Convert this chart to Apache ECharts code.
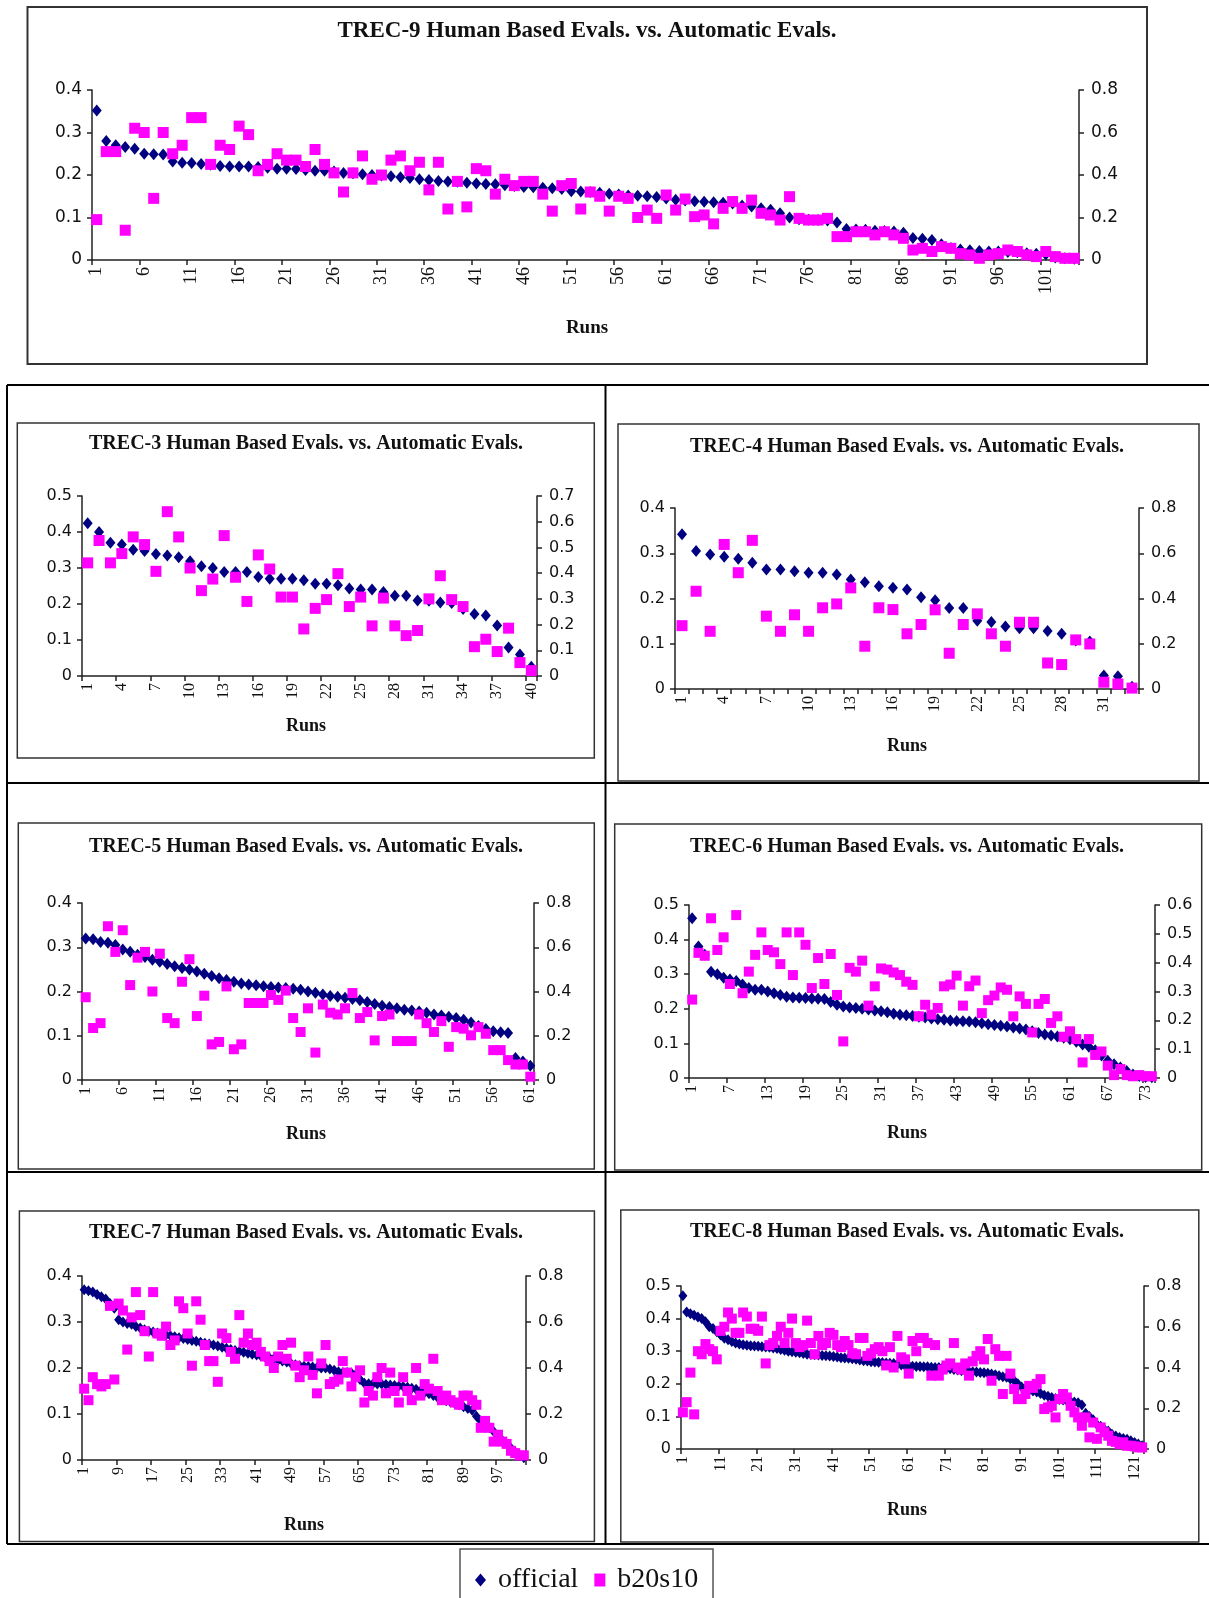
<!DOCTYPE html>
<html>
<head>
<meta charset="utf-8">
<title>TREC Human Based Evals. vs. Automatic Evals.</title>
<script src="https://cdn.jsdelivr.net/npm/echarts@6/dist/echarts.min.js"></script>
<style>
  html, body { margin: 0; padding: 0; background: #fff; }
  #chart { width: 1209px; height: 1598px; }
</style>
</head>
<body>
<div id="chart"></div>
<script>
// official = left axis, b20s10 = right axis, one value per run
var trec9Official = [
  0.352,0.280,0.270,0.266,0.262,0.250,0.249,0.248,0.232,0.229,
  0.228,0.226,0.224,0.221,0.220,0.220,0.220,0.219,0.217,0.215,
  0.215,0.214,0.212,0.210,0.210,0.208,0.205,0.204,0.202,0.200,
  0.199,0.197,0.195,0.193,0.190,0.188,0.186,0.185,0.184,0.182,
  0.180,0.179,0.178,0.176,0.174,0.172,0.171,0.170,0.169,0.167,
  0.162,0.161,0.160,0.158,0.156,0.154,0.152,0.151,0.150,0.148,
  0.145,0.142,0.140,0.138,0.137,0.136,0.135,0.133,0.128,0.126,
  0.122,0.118,0.110,0.100,0.096,0.095,0.094,0.093,0.088,0.073,
  0.072,0.071,0.069,0.068,0.067,0.064,0.052,0.050,0.047,0.037,
  0.028,0.025,0.023,0.021,0.020,0.020,0.019,0.018,0.016,0.015,
  0.013,0.006,0.004,0.003
];
var trec9Auto = [
  0.19,0.51,0.51,0.14,0.62,0.60,0.29,0.60,0.50,0.54,
  0.67,0.67,0.45,0.54,0.52,0.63,0.59,0.42,0.45,0.50,
  0.47,0.47,0.44,0.52,0.45,0.41,0.32,0.41,0.49,0.38,
  0.40,0.47,0.49,0.42,0.46,0.33,0.46,0.24,0.37,0.25,
  0.43,0.42,0.31,0.38,0.35,0.37,0.37,0.31,0.23,0.35,
  0.36,0.24,0.32,0.30,0.23,0.30,0.29,0.20,0.235,0.196,
  0.306,0.235,0.287,0.204,0.212,0.17,0.243,0.275,0.243,0.282,
  0.22,0.212,0.188,0.298,0.196,0.188,0.188,0.196,0.11,0.11,
  0.133,0.133,0.118,0.133,0.118,0.102,0.047,0.055,0.04,0.063,
  0.055,0.03,0.024,0.008,0.024,0.03,0.047,0.04,0.024,0.016,
  0.04,0.016,0.008,0.008
];

var trec3Official = [
  0.424,0.400,0.370,0.365,0.351,0.347,0.339,0.335,0.330,0.319,
  0.305,0.300,0.289,0.289,0.289,0.275,0.270,0.270,0.270,0.266,
  0.256,0.256,0.252,0.243,0.240,0.240,0.233,0.223,0.223,0.210,
  0.209,0.204,0.203,0.186,0.172,0.168,0.140,0.079,0.060,0.026
];
var trec3Auto = [
  0.44,0.527,0.44,0.476,0.541,0.511,0.407,0.639,0.541,0.42,
  0.332,0.377,0.546,0.384,0.29,0.471,0.416,0.307,0.307,0.183,
  0.263,0.297,0.398,0.27,0.307,0.195,0.303,0.195,0.157,0.177,
  0.30,0.39,0.297,0.27,0.114,0.143,0.095,0.186,0.052,0.021
];

var trec4Official = [
  0.342,0.305,0.297,0.292,0.288,0.279,0.264,0.264,0.260,0.257,
  0.257,0.253,0.242,0.236,0.227,0.224,0.220,0.203,0.196,0.179,
  0.179,0.151,0.148,0.138,0.134,0.134,0.128,0.122,0.107,0.105,
  0.030,0.028,0.005
];
var trec4Auto = [
  0.28,0.432,0.255,0.639,0.514,0.657,0.322,0.255,0.328,0.255,
  0.359,0.376,0.447,0.189,0.359,0.351,0.244,0.285,0.35,0.158,
  0.285,0.332,0.244,0.189,0.295,0.295,0.115,0.108,0.217,0.199,
  0.03,0.022,0.004
];

var trec5Official = [
  0.320,0.318,0.312,0.310,0.305,0.295,0.290,0.283,0.278,0.272,
  0.267,0.262,0.257,0.253,0.250,0.245,0.240,0.235,0.230,0.226,
  0.222,0.218,0.216,0.214,0.212,0.210,0.209,0.208,0.206,0.204,
  0.200,0.197,0.193,0.190,0.188,0.186,0.183,0.180,0.176,0.172,
  0.168,0.165,0.162,0.159,0.157,0.155,0.152,0.148,0.146,0.143,
  0.140,0.136,0.130,0.122,0.115,0.110,0.108,0.106,0.050,0.042,
  0.032
];
var trec5Auto = [
  0.374,0.235,0.257,0.695,0.579,0.677,0.429,0.553,0.579,0.40,
  0.571,0.28,0.257,0.444,0.546,0.289,0.381,0.161,0.172,0.423,
  0.139,0.161,0.348,0.348,0.348,0.384,0.362,0.404,0.28,0.217,
  0.324,0.124,0.341,0.304,0.296,0.324,0.393,0.28,0.307,0.179,
  0.289,0.296,0.176,0.176,0.176,0.296,0.257,0.217,0.266,0.15,
  0.239,0.232,0.202,0.239,0.209,0.135,0.135,0.09,0.07,0.07,
  0.015
];

var trec6Official = [
  0.462,0.380,0.356,0.307,0.300,0.290,0.285,0.280,0.270,0.260,
  0.255,0.255,0.250,0.245,0.240,0.235,0.233,0.232,0.231,0.230,
  0.229,0.228,0.220,0.212,0.207,0.204,0.202,0.200,0.198,0.195,
  0.193,0.190,0.186,0.183,0.181,0.179,0.177,0.175,0.172,0.170,
  0.168,0.166,0.165,0.164,0.163,0.161,0.158,0.155,0.153,0.151,
  0.149,0.146,0.143,0.140,0.135,0.130,0.126,0.123,0.120,0.116,
  0.112,0.105,0.097,0.090,0.080,0.065,0.050,0.040,0.030,0.020,
  0.010,0.006,0.003,0.002
];
var trec6Auto = [
  0.272,0.434,0.424,0.554,0.444,0.488,0.326,0.565,0.294,0.369,
  0.427,0.505,0.444,0.436,0.395,0.505,0.357,0.505,0.462,0.312,
  0.416,0.326,0.43,0.288,0.127,0.382,0.369,0.407,0.251,0.318,
  0.38,0.376,0.366,0.357,0.334,0.323,0.214,0.254,0.22,0.243,
  0.318,0.324,0.355,0.251,0.318,0.338,0.225,0.27,0.286,0.314,
  0.306,0.214,0.283,0.257,0.158,0.257,0.274,0.191,0.214,0.143,
  0.162,0.135,0.054,0.135,0.08,0.092,0.043,0.01,0.031,0.01,
  0.006,0.01,0.006,0.006
];

var trec7Official = [
  0.370,0.368,0.365,0.360,0.355,0.350,0.340,0.330,0.305,0.300,
  0.297,0.295,0.290,0.287,0.283,0.280,0.278,0.276,0.274,0.272,
  0.270,0.268,0.266,0.264,0.262,0.260,0.258,0.256,0.254,0.252,
  0.250,0.248,0.245,0.243,0.240,0.238,0.236,0.234,0.232,0.230,
  0.228,0.226,0.224,0.222,0.220,0.217,0.215,0.213,0.210,0.207,
  0.205,0.204,0.203,0.202,0.201,0.200,0.200,0.198,0.195,0.192,
  0.190,0.190,0.189,0.186,0.175,0.167,0.166,0.166,0.165,0.165,
  0.164,0.163,0.162,0.161,0.160,0.158,0.156,0.154,0.150,0.147,
  0.144,0.140,0.136,0.132,0.129,0.126,0.123,0.120,0.116,0.112,
  0.108,0.095,0.085,0.078,0.070,0.062,0.052,0.043,0.035,0.026,
  0.018,0.010,0.005
];
var trec7Auto = [
  0.31,0.26,0.36,0.33,0.32,0.33,0.67,0.35,0.68,0.65,
  0.48,0.62,0.73,0.63,0.56,0.45,0.73,0.55,0.54,0.58,
  0.50,0.52,0.69,0.66,0.55,0.41,0.69,0.61,0.50,0.43,
  0.43,0.34,0.55,0.53,0.47,0.44,0.63,0.51,0.55,0.50,
  0.51,0.47,0.45,0.43,0.40,0.45,0.50,0.44,0.51,0.41,
  0.36,0.39,0.45,0.37,0.29,0.42,0.50,0.33,0.34,0.35,
  0.43,0.38,0.32,0.36,0.39,0.25,0.30,0.28,0.36,0.40,
  0.29,0.38,0.30,0.25,0.36,0.30,0.26,0.40,0.28,0.33,
  0.31,0.44,0.30,0.26,0.28,0.26,0.25,0.24,0.28,0.28,
  0.26,0.24,0.14,0.17,0.14,0.08,0.11,0.08,0.07,0.04,
  0.03,0.02,0.02
];

var trec8Official = [
  0.470,0.420,0.415,0.410,0.405,0.400,0.390,0.375,0.370,0.360,
  0.350,0.340,0.335,0.330,0.325,0.322,0.320,0.318,0.317,0.316,
  0.315,0.314,0.313,0.312,0.310,0.308,0.305,0.303,0.300,0.298,
  0.297,0.295,0.293,0.291,0.290,0.289,0.288,0.287,0.286,0.285,
  0.284,0.282,0.280,0.279,0.278,0.277,0.275,0.273,0.271,0.270,
  0.268,0.267,0.266,0.265,0.264,0.263,0.262,0.260,0.258,0.256,
  0.255,0.254,0.253,0.253,0.252,0.252,0.251,0.250,0.250,0.250,
  0.248,0.246,0.244,0.242,0.240,0.239,0.238,0.237,0.236,0.235,
  0.234,0.232,0.230,0.228,0.225,0.222,0.220,0.215,0.210,0.200,
  0.190,0.185,0.180,0.178,0.175,0.170,0.165,0.162,0.158,0.155,
  0.152,0.150,0.148,0.146,0.144,0.142,0.135,0.110,0.100,0.090,
  0.075,0.070,0.060,0.055,0.045,0.040,0.035,0.032,0.030,0.025,
  0.020,0.015,0.010
];
var trec8Auto = [
  0.18,0.23,0.375,0.17,0.48,0.465,0.515,0.49,0.48,0.44,
  0.58,0.60,0.67,0.64,0.57,0.57,0.67,0.65,0.59,0.59,
  0.58,0.65,0.42,0.51,0.52,0.555,0.60,0.52,0.57,0.64,
  0.52,0.50,0.51,0.63,0.52,0.465,0.555,0.51,0.52,0.57,
  0.56,0.51,0.50,0.53,0.51,0.47,0.465,0.545,0.545,0.457,
  0.47,0.49,0.50,0.48,0.41,0.50,0.40,0.555,0.45,0.44,
  0.37,0.53,0.48,0.545,0.545,0.52,0.36,0.51,0.36,0.39,
  0.41,0.42,0.52,0.40,0.39,0.42,0.36,0.43,0.457,0.48,
  0.44,0.54,0.335,0.49,0.457,0.27,0.457,0.37,0.294,0.245,
  0.245,0.27,0.31,0.30,0.32,0.343,0.196,0.204,0.212,0.155,
  0.245,0.27,0.253,0.212,0.18,0.155,0.114,0.155,0.057,0.13,
  0.05,0.106,0.082,0.065,0.04,0.035,0.024,0.033,0.016,0.016,
  0.013,0.008,0.008
];

// axis ranges: [min, max, step]
var trec9LeftAxis = [0, 0.4, 0.1], trec9RightAxis = [0, 0.8, 0.2];
var trec3LeftAxis = [0, 0.5, 0.1], trec3RightAxis = [0, 0.7, 0.1];
var trec4LeftAxis = [0, 0.4, 0.1], trec4RightAxis = [0, 0.8, 0.2];
var trec5LeftAxis = [0, 0.4, 0.1], trec5RightAxis = [0, 0.8, 0.2];
var trec6LeftAxis = [0, 0.5, 0.1], trec6RightAxis = [0, 0.6, 0.1];
var trec7LeftAxis = [0, 0.4, 0.1], trec7RightAxis = [0, 0.8, 0.2];
var trec8LeftAxis = [0, 0.5, 0.1], trec8RightAxis = [0, 0.8, 0.2];

var titleSuffix = ' Human Based Evals. vs. Automatic Evals.';
var NAVY = '#000080', PINK = '#FF00FF', INK = '#111';
var SERIF = '"Liberation Serif", "Times New Roman", serif';
var SANS = '"DejaVu Sans", Verdana, sans-serif';

// layout per panel (pixels on the 1209x1598 page)
var panels = [
  { name: 'TREC-9', official: trec9Official, auto: trec9Auto, left: trec9LeftAxis, right: trec9RightAxis,
    labelEvery: 5, tickEvery: 5, grid: [92, 90, 987, 170], box: [27.5, 7, 1119.5, 357], lw: 2,
    titleXY: [587, 31], runsXY: [587, 328], tSize: 23, rSize: 19, ySize: 17, xSize: 18, dia: [10, 12], sq: 11 },
  { name: 'TREC-3', official: trec3Official, auto: trec3Auto, left: trec3LeftAxis, right: trec3RightAxis,
    labelEvery: 3, tickEvery: 3, grid: [82, 496, 455, 180], box: [17.3, 423, 577, 335], lw: 1.5,
    titleXY: [306, 443.5], runsXY: [306, 726], tSize: 20, rSize: 18, ySize: 16, xSize: 16, dia: [10, 12], sq: 11 },
  { name: 'TREC-4', official: trec4Official, auto: trec4Auto, left: trec4LeftAxis, right: trec4RightAxis,
    labelEvery: 3, tickEvery: 1, grid: [675, 508, 464, 181], box: [618, 424, 581, 357], lw: 1.5,
    titleXY: [907, 446.5], runsXY: [907, 746], tSize: 20, rSize: 18, ySize: 16, xSize: 16, dia: [10, 12], sq: 11 },
  { name: 'TREC-5', official: trec5Official, auto: trec5Auto, left: trec5LeftAxis, right: trec5RightAxis,
    labelEvery: 5, tickEvery: 5, grid: [82, 903, 452, 177], box: [18.3, 823, 576, 346], lw: 1.5,
    titleXY: [306, 846.5], runsXY: [306, 1134], tSize: 20, rSize: 18, ySize: 16, xSize: 16, dia: [10, 12], sq: 10 },
  { name: 'TREC-6', official: trec6Official, auto: trec6Auto, left: trec6LeftAxis, right: trec6RightAxis,
    labelEvery: 6, tickEvery: 6, grid: [689, 905, 466, 173], box: [614.7, 824, 587, 346], lw: 1.5,
    titleXY: [907, 846.5], runsXY: [907, 1133.5], tSize: 20, rSize: 18, ySize: 16, xSize: 16, dia: [10, 12], sq: 10 },
  { name: 'TREC-7', official: trec7Official, auto: trec7Auto, left: trec7LeftAxis, right: trec7RightAxis,
    labelEvery: 8, tickEvery: 8, grid: [82, 1276, 444, 184], box: [19.4, 1211, 575, 330.5], lw: 1.5,
    titleXY: [306, 1233], runsXY: [304, 1525], tSize: 20, rSize: 18, ySize: 16, xSize: 16, dia: [9, 11], sq: 10 },
  { name: 'TREC-8', official: trec8Official, auto: trec8Auto, left: trec8LeftAxis, right: trec8RightAxis,
    labelEvery: 10, tickEvery: 10, grid: [681, 1286, 463, 163], box: [620.8, 1210, 578, 332], lw: 1.5,
    titleXY: [907, 1231.5], runsXY: [907, 1510], tSize: 20, rSize: 18, ySize: 16, xSize: 16, dia: [9, 11], sq: 10 }
];

var chart = echarts.init(document.getElementById('chart'), null, { renderer: 'canvas' });

var option = {
  animation: false,
  backgroundColor: '#fff',
  grid: [], xAxis: [], yAxis: [], series: [],
  graphic: [],
  legend: {
    left: 470, top: 1561,
    itemWidth: 11, itemHeight: 13, itemGap: 16,
    textStyle: { fontFamily: SERIF, fontSize: 28, color: INK, padding: [0, 0, 0, 7] },
    data: [
      { name: 'official', icon: 'diamond' },
      { name: 'b20s10', icon: 'rect' }
    ]
  }
};

// outer frame lines
var frame = [
  [7, 385, 1209, 385], [7, 783, 1209, 783], [7, 1172, 1209, 1172], [7, 1544, 1209, 1544],
  [7, 385, 7, 1544], [605.5, 385, 605.5, 1544]
];
frame.forEach(function (l) {
  option.graphic.push({ type: 'line', z: 0, shape: { x1: l[0], y1: l[1], x2: l[2], y2: l[3] },
    style: { stroke: '#000', lineWidth: 2 } });
});
// legend box
option.graphic.push({ type: 'rect', z: 0, shape: { x: 460, y: 1549, width: 253, height: 60 },
  style: { fill: '#fff', stroke: '#555', lineWidth: 1.5 } });

function axisStyle(w) {
  return { show: true, lineStyle: { color: '#222', width: w } };
}

panels.forEach(function (p, i) {
  var cats = [];
  for (var k = 1; k <= p.official.length; k++) cats.push(String(k));

  option.graphic.push({ type: 'rect', z: 0,
    shape: { x: p.box[0], y: p.box[1], width: p.box[2], height: p.box[3] },
    style: { fill: '#fff', stroke: '#333', lineWidth: p.lw } });
  option.graphic.push({ type: 'text', z: 1, x: p.titleXY[0], y: p.titleXY[1],
    style: { text: p.name + titleSuffix, font: 'bold ' + p.tSize + 'px ' + SERIF, fill: INK,
      align: 'center', verticalAlign: 'middle', textAlign: 'center', textVerticalAlign: 'middle' } });
  option.graphic.push({ type: 'text', z: 1, x: p.runsXY[0], y: p.runsXY[1],
    style: { text: 'Runs', font: 'bold ' + p.rSize + 'px ' + SERIF, fill: INK,
      align: 'center', verticalAlign: 'middle', textAlign: 'center', textVerticalAlign: 'middle' } });

  option.grid.push({ left: p.grid[0], top: p.grid[1], width: p.grid[2], height: p.grid[3],
    containLabel: false, outerBoundsMode: 'none' });

  option.xAxis.push({
    type: 'category', gridIndex: i, data: cats, boundaryGap: true,
    axisLine: axisStyle(1.5),
    axisTick: { show: true, interval: p.tickEvery - 1, length: 5, lineStyle: { color: '#222', width: 1.5 } },
    axisLabel: { interval: p.labelEvery - 1, rotate: 90, margin: 7, fontFamily: SERIF,
      fontSize: p.xSize, color: INK },
    splitLine: { show: false }
  });
  [p.left, p.right].forEach(function (ax, side) {
    option.yAxis.push({
      type: 'value', gridIndex: i, position: side ? 'right' : 'left',
      min: ax[0], max: ax[1], interval: ax[2],
      axisLine: axisStyle(1.5),
      axisTick: { show: true, length: 5, lineStyle: { color: '#222', width: 1.5 } },
      axisLabel: { margin: side ? 12 : 10, fontFamily: SANS, fontSize: p.ySize, color: INK },
      splitLine: { show: false }
    });
  });

  option.series.push({
    type: 'scatter', name: 'official', xAxisIndex: i, yAxisIndex: 2 * i,
    data: p.official.map(function (v, k) { return [k, v]; }),
    symbol: 'diamond', symbolSize: p.dia, itemStyle: { color: NAVY, opacity: 1 }, z: 2
  });
  option.series.push({
    type: 'scatter', name: 'b20s10', xAxisIndex: i, yAxisIndex: 2 * i + 1,
    data: p.auto.map(function (v, k) { return [k, v]; }),
    symbol: 'rect', symbolSize: p.sq, itemStyle: { color: PINK, opacity: 1 }, z: 3
  });
});

chart.setOption(option);
</script>
</body>
</html>
